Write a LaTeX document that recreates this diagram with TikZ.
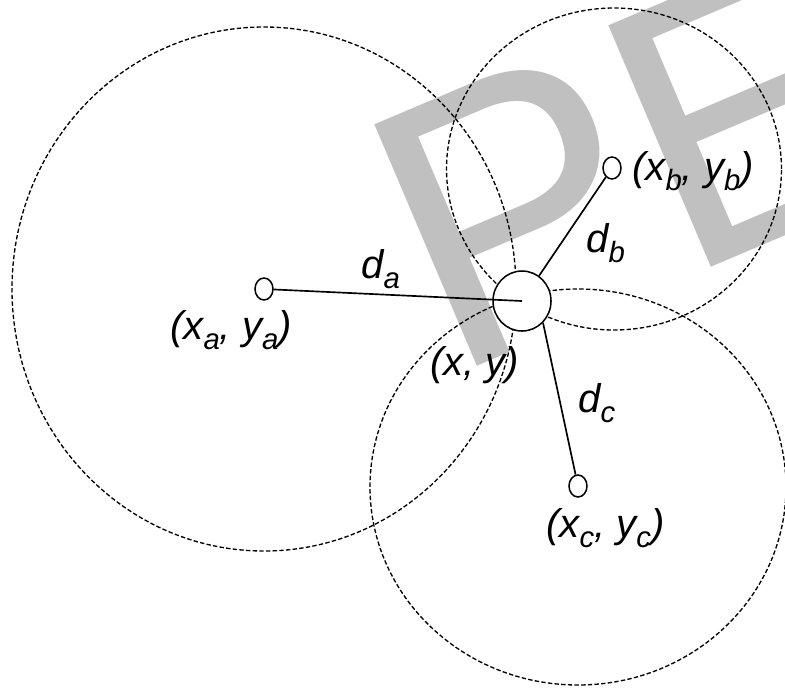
\documentclass[tikz,border=0pt]{standalone}
\usepackage{fontspec}
\setmainfont{Liberation Sans}
\usetikzlibrary{shapes.geometric}
\definecolor{wmgray}{HTML}{C0C0C0}
\newcommand{\sbs}[1]{\raisebox{-7.5pt}{\fontsize{22}{22}\selectfont #1}}
\begin{document}
\begin{tikzpicture}[x=0.75pt,y=-0.75pt,
  dashring/.style={draw, dash pattern=on 3.3pt off 1.7pt, line width=1pt},
  link/.style={draw, line width=1.25pt},
  anchorpt/.style={ellipse, draw, line width=1.15pt, fill=white, minimum width=13.5pt, minimum height=16.5pt, inner sep=0pt},
  target/.style={ellipse, draw, line width=1.15pt, fill=white, minimum width=43.5pt, minimum height=45pt, inner sep=0pt},
  lbl/.style={font=\fontsize{30}{31}\selectfont\itshape, inner sep=0pt, anchor=base west},
  watermark/.style={font=\fontsize{286}{286}\selectfont, text=wmgray, inner sep=0pt, anchor=base west, rotate=23}]
\clip (0,0) rectangle (785,687);
% watermark
\node[watermark] (wm) at (448,379) {PE};
% range rings
\draw[dashring] (264,289) ellipse [x radius=189pt, y radius=196.5pt];
\draw[dashring] (614,169) ellipse [x radius=125.6pt, y radius=120.75pt];
\draw[dashring] (578,487) ellipse [x radius=156pt, y radius=148.5pt];
% nodes
\node[anchorpt] (a) at (264,289) {};
\node[anchorpt] (b) at (612,168) {};
\node[anchorpt] (c) at (578,486) {};
\node[target] (xy) at (522,301) {};
% connectors
\draw[link] (a) -- (xy.center);
\draw[link] (b) -- (xy);
\draw[link] (xy.-46) -- (c);
% labels
\node[lbl] (la) at (170,339) {(x\sbs{a}, y\sbs{a})};
\node[lbl] (lb) at (632,180) {(x\sbs{b}, y\sbs{b})};
\node[lbl] (lc) at (546,537) {(x\sbs{c}, y\sbs{c})};
\node[lbl] (lxy) at (430,375.5) {(x, y)};
\node[lbl] (lda) at (361,278) {d\sbs{a}};
\node[lbl] (ldb) at (586,252) {d\sbs{b}};
\node[lbl] (ldc) at (578,412) {d\sbs{c}};
\end{tikzpicture}
\end{document}
